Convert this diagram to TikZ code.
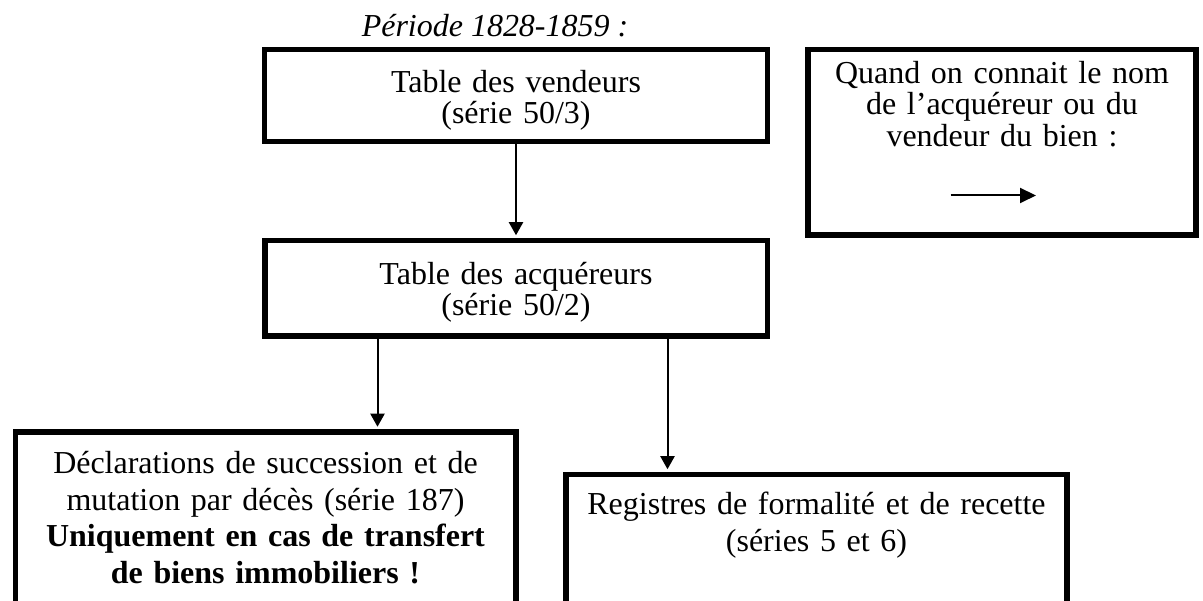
\documentclass[tikz,border=0pt]{standalone}
\usepackage{fontspec}
\setmainfont{Liberation Serif}
\usepackage{tikz}
\usetikzlibrary{positioning}
\usetikzlibrary{arrows.meta}

\begin{document}
\begin{tikzpicture}[
	boite/.style = {draw, line width=0.11cm, inner sep=0pt, align=center, anchor=base},
	haut/.style = {font=\fontsize{18.2}{17.9}\selectfont},
	bas/.style = {font=\fontsize{18.2}{20.9}\selectfont},
	fleche/.style = {line width=0.04cm, shorten >=0.05cm, -{Triangle[length=0.26cm,width=0.28cm]}}
]

	%Cadre
	\clip (0.00cm,0.00cm) rectangle (24.06cm,-12.02cm);

	%Titre
	\node[haut, anchor=base] (periode) at (9.90cm,-0.73cm) {\textit{Période 1828-1859 :}};

	%Tables
	\node[boite, haut, minimum width=10.06cm, text width=9.60cm, text height=0.86cm, text depth=0.98cm] (vendeurs) at (10.32cm,-1.85cm) {Table des vendeurs\\(série 50/3)};

	\node[boite, haut, minimum width=10.05cm, text width=9.60cm, text height=0.88cm, text depth=1.03cm] (acquereurs) at (10.32cm,-5.69cm) {Table des acquéreurs\\(série 50/2)};

	%Legende
	\node[boite, haut, minimum width=7.76cm, text width=7.40cm, text height=0.68cm, text depth=3.03cm] (quand) at (20.04cm,-1.67cm) {Quand on connait le nom\\de l’acquéreur ou du\\vendeur du bien :};

	\coordinate (legendeA) at (19.01cm,-3.91cm);
	\coordinate (legendeB) at (20.72cm,-3.91cm);

	%Registres
	\node[boite, bas, minimum width=10.01cm, text width=9.60cm, text height=0.83cm, text depth=3.50cm] (declarations) at (5.31cm,-9.47cm) {Déclarations de succession et de\\mutation par décès (série 187)\\\textbf{Uniquement en cas de transfert}\\\textbf{de biens immobiliers~!}};

	\node[boite, bas, minimum width=10.02cm, text width=9.60cm, text height=0.81cm, text depth=2.80cm] (registres) at (16.33cm,-10.30cm) {Registres de formalité et de recette\\(séries 5 et 6)};

	\coordinate (embranchementG) at ([xshift=2.31cm]acquereurs.south west);
	\coordinate (embranchementD) at ([xshift=8.11cm]acquereurs.south west);

	%Fleches
	\draw[fleche] (vendeurs) -- (acquereurs);
	\draw[fleche] (embranchementG) -- (embranchementG |- declarations.north);
	\draw[fleche] (embranchementD) -- (embranchementD |- registres.north);
	\draw[line width=0.04cm, -{Triangle[length=0.32cm,width=0.30cm]}] (legendeA) -- (legendeB);

\end{tikzpicture}
\end{document}
